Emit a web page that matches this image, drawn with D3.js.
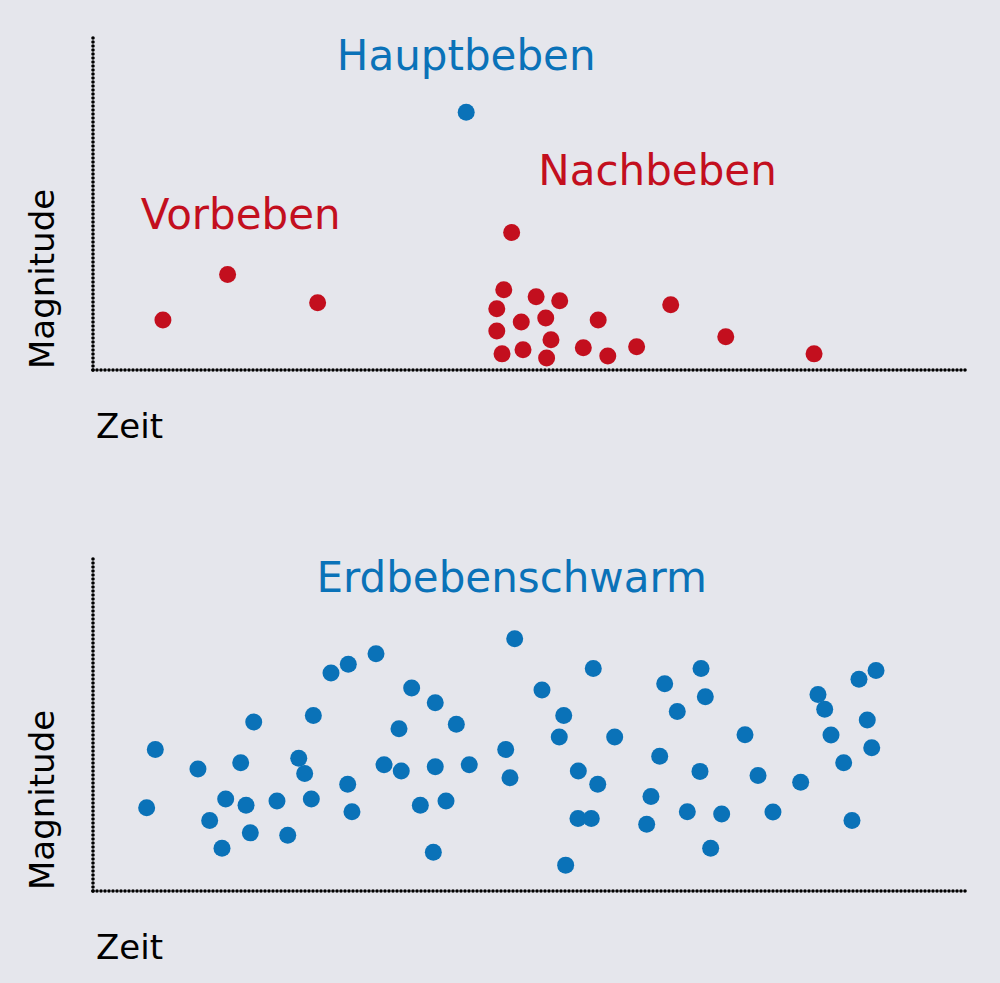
<!DOCTYPE html>
<html>
<head>
<meta charset="utf-8">
<script src="https://cdn.jsdelivr.net/npm/d3@7"></script>
<style>
  html, body { margin: 0; padding: 0; background: #e5e6ec; }
  svg { display: block; }
  text { font-family: "DejaVu Sans", Verdana, sans-serif; }
</style>
</head>
<body>
<svg id="chart" width="1000" height="983"></svg>
<script>
// ---- Data (time 0-100, magnitude 0-10) ----
const foreshockTime = [8.0, 15.4, 25.7];
const foreshockMag  = [1.49, 2.84, 2.0];

const mainshockTime = [42.7];
const mainshockMag  = [7.67];

const aftershockTime = [47.9, 47.0, 50.7, 53.4, 46.2, 49.0, 51.8, 57.8, 46.2, 52.4, 46.8, 49.2, 51.9, 56.1, 58.9, 62.2, 66.1, 72.4, 82.5];
const aftershockMag  = [4.09, 2.39, 2.18, 2.06, 1.82, 1.43, 1.55, 1.49, 1.16, 0.90, 0.48, 0.60, 0.36, 0.66, 0.42, 0.69, 1.94, 0.99, 0.48];

const swarmTime = [6.14, 7.13, 12.01, 13.35, 14.76, 15.18, 16.90, 17.51, 18.39, 18.00, 21.05, 22.28, 23.54, 24.22, 24.98, 25.21, 27.23, 29.21, 32.38, 36.46,
                   39.16, 35.01, 41.57, 48.25, 51.37, 33.30, 35.27, 39.16, 43.05, 47.22, 47.71, 29.14, 29.63, 37.45, 40.39, 38.94, 57.24, 53.86, 53.35, 59.69,
                   55.53, 57.75, 55.49, 57.01, 54.08, 65.41, 69.57, 70.06, 66.85, 74.60, 64.84, 69.45, 63.84, 63.35, 68.00, 71.93, 70.67, 76.09, 77.80, 80.97,
                   82.95, 83.72, 84.44, 85.89, 86.84, 87.64, 89.59, 88.59, 89.10];
const swarmMag  = [2.48, 4.21, 3.63, 2.10, 1.27, 2.74, 3.82, 2.55, 5.03, 1.73, 2.68, 1.66, 3.95, 3.50, 2.74, 5.22, 6.49, 6.75, 7.06, 6.04,
                   5.60, 4.83, 4.96, 7.51, 5.98, 3.76, 3.57, 3.70, 3.76, 4.21, 3.37, 3.18, 2.36, 2.55, 2.68, 1.15, 6.62, 5.22, 4.58, 4.58,
                   3.57, 3.18, 2.16, 2.16, 0.77, 6.17, 6.62, 5.78, 5.34, 4.65, 4.01, 3.56, 2.81, 1.99, 2.36, 2.29, 1.27, 3.44, 2.35, 3.24,
                   5.85, 5.41, 4.64, 3.82, 2.10, 6.30, 6.56, 5.09, 4.26];

const labels = {
  top: [
    { text: "Hauptbeben", t: 42.7, m: 8.93, color: "blue" },
    { text: "Vorbeben",   t: 16.9, m: 4.19, color: "red" },
    { text: "Nachbeben",  t: 64.6, m: 5.5, color: "red" }
  ],
  bottom: [
    { text: "Erdbebenschwarm", t: 47.9, m: 8.9, color: "blue" }
  ]
};
const axisLabelX = "Zeit";
const axisLabelY = "Magnitude";

// ---- Styles ----
const COLORS = { blue: "#0a72b8", red: "#c30f1e" };
const R = 8.5;

const svg = d3.select("#chart");

function panel(top, bottom, series, titleItems) {
  const x = d3.scaleLinear().domain([0, 100]).range([93, 967]);
  const y = d3.scaleLinear().domain([0, 10]).range([bottom, top]);
  const g = svg.append("g");

  // dotted axes
  const axisStyle = sel => sel.attr("stroke", "#000").attr("stroke-width", 3.6)
    .attr("stroke-linecap", "round").attr("stroke-dasharray", "0 4").attr("fill", "none");
  g.append("line").attr("x1", x(0)).attr("x2", x(0)).attr("y1", y(0)).attr("y2", y(10)).call(axisStyle);
  g.append("line").attr("x1", x(0)).attr("x2", x(100)).attr("y1", y(0)).attr("y2", y(0)).call(axisStyle);

  series.forEach(s => {
    const pts = s.t.map((t, i) => [t, s.m[i]]);
    g.selectAll(null).data(pts).enter().append("circle")
      .attr("cx", d => x(d[0])).attr("cy", d => y(d[1])).attr("r", R)
      .attr("fill", COLORS[s.color]);
  });

  titleItems.forEach(l => {
    g.append("text").attr("x", x(l.t)).attr("y", y(l.m))
      .attr("text-anchor", "middle").attr("font-size", 42)
      .attr("fill", COLORS[l.color]).text(l.text);
  });

  g.append("text").attr("x", 96).attr("y", bottom + 68).attr("font-size", 34)
    .attr("fill", "#000").text(axisLabelX);
  g.append("text").attr("transform", `translate(54,${bottom - 1}) rotate(-90)`)
    .attr("font-size", 34).attr("fill", "#000").text(axisLabelY);
}

panel(34, 370, [
  { t: foreshockTime, m: foreshockMag, color: "red" },
  { t: mainshockTime, m: mainshockMag, color: "blue" },
  { t: aftershockTime, m: aftershockMag, color: "red" }
], labels.top);

panel(555, 891, [
  { t: swarmTime, m: swarmMag, color: "blue" }
], labels.bottom);
</script>
</body>
</html>
